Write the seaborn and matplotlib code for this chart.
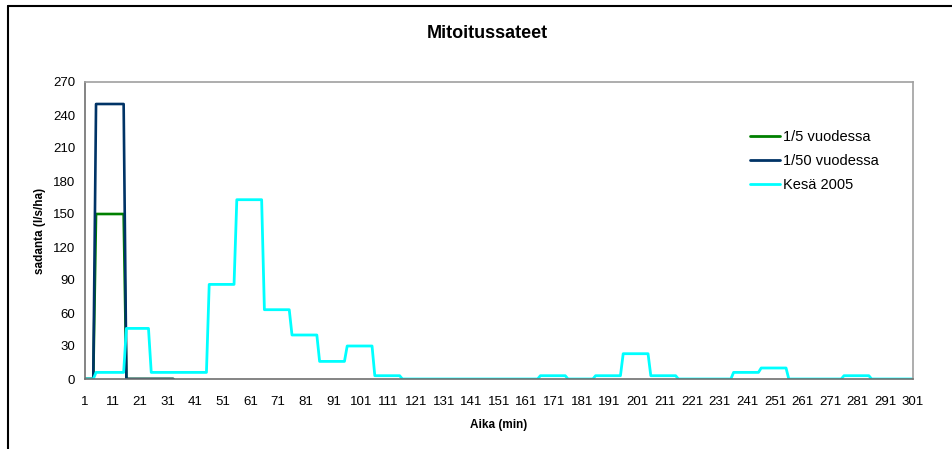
import matplotlib
matplotlib.use("Agg")
import matplotlib.pyplot as plt
from matplotlib.lines import Line2D
import seaborn as sns
import pandas as pd

# ---- data (breakpoints of the step series, minute -> l/s/ha) ----
series_names = ["1/5 vuodessa", "1/50 vuodessa", "Kesä 2005"]

minutes_5 = [1, 4, 5, 15, 16, 33]
rain_5 = [0, 0, 150, 150, 0, 0]

minutes_50 = [1, 4, 5, 15, 16, 33]
rain_50 = [0, 0, 250, 250, 0, 0]

minutes_2005 = [1, 4, 5, 15, 16, 24, 25, 45, 46, 55, 56, 65, 66, 75, 76, 85,
                86, 95, 96, 105, 106, 115, 116, 165, 166, 175, 176, 185, 186,
                195, 196, 205, 206, 215, 216, 235, 236, 245, 246, 255, 256,
                275, 276, 285, 286, 301]
rain_2005 = [0, 0, 6, 6, 46, 46, 6, 6, 86, 86, 163, 163, 63, 63, 40, 40,
             16, 16, 30, 30, 3, 3, 0, 0, 3, 3, 0, 0, 3,
             3, 23, 23, 3, 3, 0, 0, 6, 6, 10, 10, 0,
             0, 3, 3, 0, 0]

x_ticks = list(range(1, 302, 10))
y_ticks = list(range(0, 271, 30))

title = "Mitoitussateet"
x_label = "Aika (min)"
y_label = "sadanta (l/s/ha)"

colors = {"1/5 vuodessa": "#008000", "1/50 vuodessa": "#003366",
          "Kesä 2005": "#00FFFF"}

frames = []
for name, xs, ys in zip(series_names, [minutes_5, minutes_50, minutes_2005],
                        [rain_5, rain_50, rain_2005]):
    frames.append(pd.DataFrame({"Aika": xs, "sadanta": ys, "sarja": name}))
df = pd.concat(frames, ignore_index=True)

sns.set_style("white")
plt.rcParams["font.family"] = ["Liberation Sans", "DejaVu Sans"]
plt.rcParams["text.color"] = "black"
plt.rcParams["axes.labelcolor"] = "black"

fig = plt.figure(figsize=(9.53, 4.49), dpi=100)
ax = fig.add_axes([85 / 953, 1 - 379 / 449, (913 - 85) / 953, (379 - 82) / 449])

for name in series_names:
    sub = df[df["sarja"] == name]
    sns.lineplot(data=sub, x="Aika", y="sadanta", ax=ax, color=colors[name],
                 lw=2.0 if name == "Kesä 2005" else 1.9, sort=False,
                 estimator=None, label=name)

ax.set_xlim(1, 301)
ax.set_ylim(0, 270)
ax.set_xticks(x_ticks)
ax.set_yticks(y_ticks)
ax.tick_params(axis="x", labelsize=9.5, colors="black", direction="out",
               length=4, width=1, pad=8)
ax.tick_params(axis="y", labelsize=9.5, colors="black", direction="out",
               length=4, width=1, pad=3)
ax.set_xlabel(x_label, fontsize=8.5, fontweight="bold", labelpad=8.5,
              color="black")
ax.set_ylabel(y_label, fontsize=8.5, fontweight="bold", labelpad=5,
              color="black")

for side in ["left", "bottom"]:
    ax.spines[side].set_color("#707070")
    ax.spines[side].set_linewidth(1.2)
for side in ["top", "right"]:
    ax.spines[side].set_color("#A0A0A0")
    ax.spines[side].set_linewidth(1.2)

leg = ax.legend(loc="upper left", bbox_to_anchor=(737 / 953, 1 - 117 / 449),
                bbox_transform=fig.transFigure, frameon=False, fontsize=10.5,
                handlelength=2.05, handletextpad=0.2, labelspacing=0.68)
for line in leg.get_lines():
    line.set_linewidth(2)

fig.text(487 / 953, 1 - 33 / 449, title, ha="center", va="center",
         fontsize=13, fontweight="bold", color="black")

# outer chart frame (top and left edges)
fig.add_artist(Line2D([8.5 / 953, 8.5 / 953], [0, 1 - 5.5 / 449],
                      transform=fig.transFigure, color="black", lw=1.5))
fig.add_artist(Line2D([8.5 / 953, 1], [1 - 5.5 / 449, 1 - 5.5 / 449],
                      transform=fig.transFigure, color="black", lw=1.5))

fig.savefig("out.png", dpi=100)
